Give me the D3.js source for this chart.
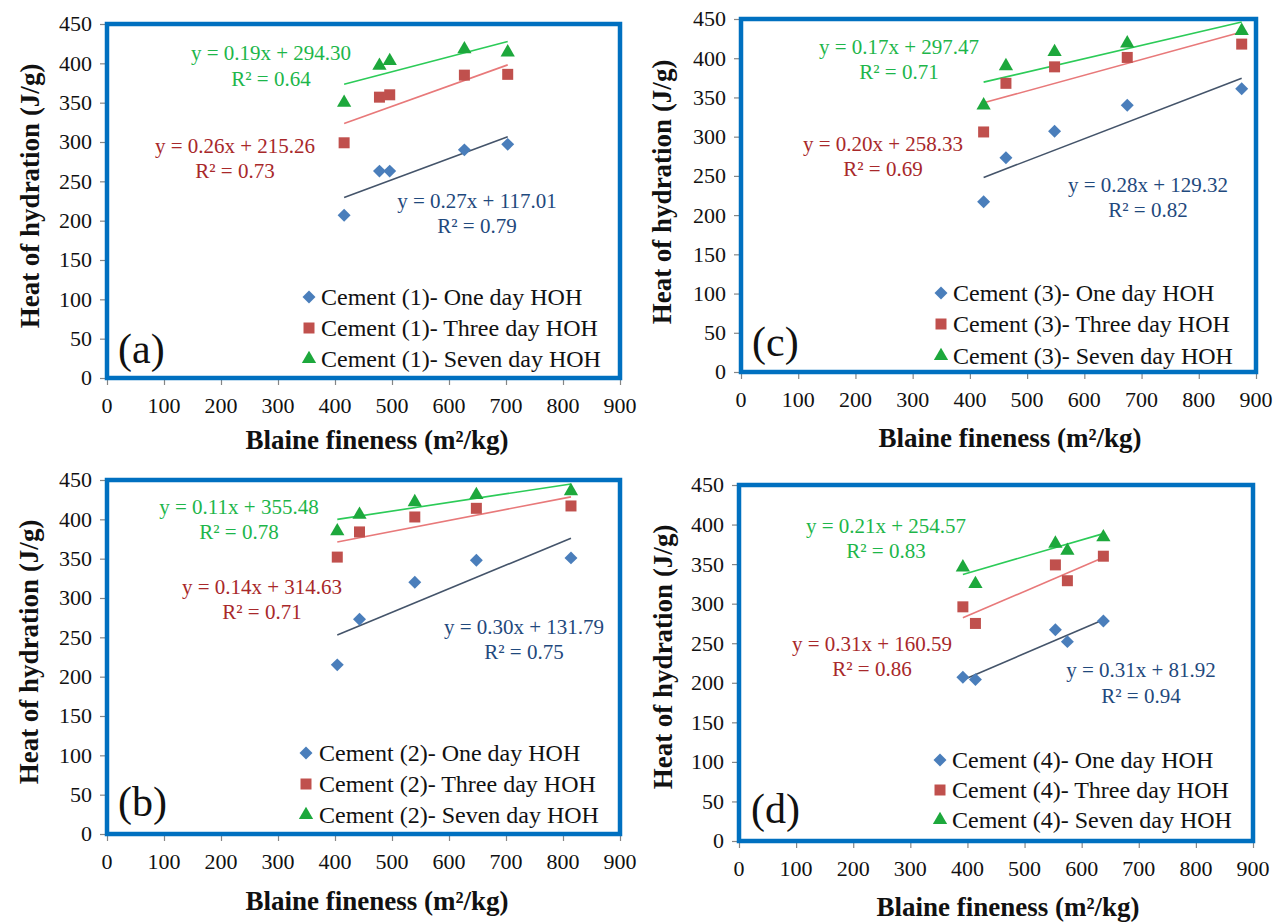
<!DOCTYPE html>
<html>
<head>
<meta charset="utf-8">
<script src="https://cdn.jsdelivr.net/npm/d3@7/dist/d3.min.js"></script>
<style>
  body { margin: 0; background: #ffffff; }
  svg text { font-family: "Liberation Serif", "Times New Roman", Times, serif; }
</style>
</head>
<body>
<svg id="chart" width="1283" height="922" font-family="Liberation Serif, serif"></svg>
<script>
// ---- axis ticks ----
const xTicks = [0, 100, 200, 300, 400, 500, 600, 700, 800, 900];
const yTicks = [0, 50, 100, 150, 200, 250, 300, 350, 400, 450];
const seriesNames = ["One day HOH", "Three day HOH", "Seven day HOH"];

// ---- Cement (1) ----
const finenessA = [416, 478, 496, 627, 703];
const oneDayA   = [207, 263, 263, 290, 297];
const threeDayA = [299, 357, 360, 385, 386];
const sevenDayA = [350, 397, 403, 418, 414];
const fitsA     = [[0.27, 117.01, 0.79], [0.26, 215.26, 0.73], [0.19, 294.30, 0.64]];

// ---- Cement (2) ----
const finenessB = [404, 443, 540, 648, 814];
const oneDayB   = [215, 273, 320, 348, 351];
const threeDayB = [352, 384, 403, 414, 417];
const sevenDayB = [385, 406, 422, 431, 436];
const fitsB     = [[0.30, 131.79, 0.75], [0.14, 314.63, 0.71], [0.11, 355.48, 0.78]];

// ---- Cement (3) ----
const finenessC = [424, 463, 548, 675, 875];
const oneDayC   = [217, 273, 307, 340, 361];
const threeDayC = [306, 368, 389, 401, 418];
const sevenDayC = [340, 390, 408, 419, 435];
const fitsC     = [[0.28, 129.32, 0.82], [0.20, 258.33, 0.69], [0.17, 297.47, 0.71]];

// ---- Cement (4) ----
const finenessD = [392, 414, 554, 575, 638];
const oneDayD   = [207, 204, 267, 252, 278];
const threeDayD = [296, 275, 349, 329, 360];
const sevenDayD = [346, 325, 376, 367, 384];
const fitsD     = [[0.31, 81.92, 0.94], [0.31, 160.59, 0.86], [0.21, 254.57, 0.83]];

// ---- styling ----
const markerColors = ["#4A7EBB", "#C0504D", "#1DA83C"];
const lineColors   = ["#44546A", "#E8797A", "#2CCB58"];
const eqColors     = ["#1F497D", "#A8282A", "#1DB64A"];
const frameColor   = "#0070C0";
const axisColor    = "#868686";

// panel layout (pixel positions of plot box and annotations)
const panels = [
  { tag: "(a)", cement: 1, x: finenessA, ys: [oneDayA, threeDayA, sevenDayA], fits: fitsA,
    box: { l: 107, r: 620, t: 24, b: 378 },
    eq: [[477, 201, 226], [235, 146, 171], [271, 53, 79]],
    leg: { mx: 309, tx: 321, rows: [297, 328, 359] },
    letter: [118, 363], yTitle: [30, 196], xTitle: [377, 449] },
  { tag: "(b)", cement: 2, x: finenessB, ys: [oneDayB, threeDayB, sevenDayB], fits: fitsB,
    box: { l: 107, r: 620, t: 480, b: 834 },
    eq: [[524, 627, 652], [262, 587, 612], [239, 507, 532]],
    leg: { mx: 306, tx: 319, rows: [753, 784, 815] },
    letter: [118, 816], yTitle: [29, 652], xTitle: [377, 910] },
  { tag: "(c)", cement: 3, x: finenessC, ys: [oneDayC, threeDayC, sevenDayC], fits: fitsC,
    box: { l: 741, r: 1256, t: 19, b: 372 },
    eq: [[1148, 185, 210], [883, 144, 169], [899, 47, 72]],
    leg: { mx: 941, tx: 953, rows: [293, 324, 356] },
    letter: [752, 356], yTitle: [662, 192], xTitle: [1010, 447] },
  { tag: "(d)", cement: 4, x: finenessD, ys: [oneDayD, threeDayD, sevenDayD], fits: fitsD,
    box: { l: 739, r: 1253, t: 485, b: 841 },
    eq: [[1141, 670, 696], [872, 644, 669], [886, 526, 551]],
    leg: { mx: 940, tx: 952, rows: [760, 790, 820] },
    letter: [751, 823], yTitle: [663, 657], xTitle: [1008, 916] }
];

const svg = d3.select("#chart");

// marker generators: diamond (rotated square), square, triangle
const symbols = [
  d3.symbol().type(d3.symbolSquare).size(84),
  d3.symbol().type(d3.symbolSquare).size(121),
  d3.symbol().type(d3.symbolTriangle).size(88)
];
const symbolRotate = [45, 0, 0];

function drawPanel(p) {
  const g = svg.append("g");
  const x = d3.scaleLinear().domain([0, 900]).range([p.box.l, p.box.r]);
  const y = d3.scaleLinear().domain([0, 450]).range([p.box.b, p.box.t]);

  // axes (lines and tick marks)
  const xAxis = g.append("g").attr("transform", `translate(0,${p.box.b})`)
    .call(d3.axisBottom(x).tickValues(xTicks).tickSize(7).tickSizeOuter(0).tickFormat(""));
  const yAxis = g.append("g").attr("transform", `translate(${p.box.l},0)`)
    .call(d3.axisLeft(y).tickValues(yTicks).tickSize(7).tickSizeOuter(0).tickFormat(""));
  [xAxis, yAxis].forEach(a => {
    a.selectAll("path,line").attr("stroke", axisColor).attr("stroke-width", 1.2);
  });

  // tick labels
  g.append("g").selectAll("text").data(xTicks).join("text")
    .attr("x", d => x(d)).attr("y", p.box.b + 35)
    .attr("text-anchor", "middle").attr("font-size", 22).attr("fill", "#111")
    .text(d => d);
  g.append("g").selectAll("text").data(yTicks).join("text")
    .attr("x", p.box.l - 15).attr("y", d => y(d)).attr("dy", "0.34em")
    .attr("text-anchor", "end").attr("font-size", 22).attr("fill", "#111")
    .text(d => d);

  // blue plot frame
  g.append("rect")
    .attr("x", x(0)).attr("y", y(450))
    .attr("width", x(900) - x(0)).attr("height", y(0) - y(450))
    .attr("fill", "none").attr("stroke", frameColor).attr("stroke-width", 4.5);

  // trend lines from the fitted equations
  p.fits.forEach((f, i) => {
    const xs = d3.extent(p.x);
    g.append("path")
      .datum(xs.map(v => [v, f[0] * v + f[1]]))
      .attr("d", d3.line().x(d => x(d[0])).y(d => y(d[1])))
      .attr("fill", "none").attr("stroke", lineColors[i]).attr("stroke-width", 1.6);
  });

  // data markers
  p.ys.forEach((vals, i) => {
    g.append("g").selectAll("path").data(vals).join("path")
      .attr("d", symbols[i]())
      .attr("transform", (d, j) => `translate(${x(p.x[j])},${y(d)}) rotate(${symbolRotate[i]})`)
      .attr("fill", markerColors[i]);
  });

  // regression equations
  p.fits.forEach((f, i) => {
    const [cx, cy1, cy2] = p.eq[i];
    g.append("text").attr("x", cx).attr("y", cy1).attr("dy", "0.35em")
      .attr("text-anchor", "middle").attr("font-size", 21).attr("fill", eqColors[i])
      .text(`y = ${f[0].toFixed(2)}x + ${f[1].toFixed(2)}`);
    g.append("text").attr("x", cx).attr("y", cy2).attr("dy", "0.35em")
      .attr("text-anchor", "middle").attr("font-size", 21).attr("fill", eqColors[i])
      .text(`R² = ${f[2].toFixed(2)}`);
  });

  // legend
  seriesNames.forEach((name, i) => {
    const ry = p.leg.rows[i];
    g.append("path")
      .attr("d", symbols[i]())
      .attr("transform", `translate(${p.leg.mx},${ry}) rotate(${symbolRotate[i]})`)
      .attr("fill", markerColors[i]);
    g.append("text").attr("x", p.leg.tx).attr("y", ry).attr("dy", "0.35em")
      .attr("font-size", 24).attr("fill", "#111")
      .text(`Cement (${p.cement})- ${name}`);
  });

  // panel letter
  g.append("text").attr("x", p.letter[0]).attr("y", p.letter[1])
    .attr("font-size", 42).attr("fill", "#111").text(p.tag);

  // axis titles
  g.append("text")
    .attr("transform", `translate(${p.yTitle[0]},${p.yTitle[1]}) rotate(-90)`)
    .attr("text-anchor", "middle").attr("dy", "0.35em")
    .attr("font-size", 27).attr("font-weight", "bold").attr("fill", "#111")
    .text("Heat of hydration (J/g)");
  g.append("text")
    .attr("x", p.xTitle[0]).attr("y", p.xTitle[1])
    .attr("text-anchor", "middle")
    .attr("font-size", 27).attr("font-weight", "bold").attr("fill", "#111")
    .text("Blaine fineness (m²/kg)");
}

panels.forEach(drawPanel);
</script>
</body>
</html>
